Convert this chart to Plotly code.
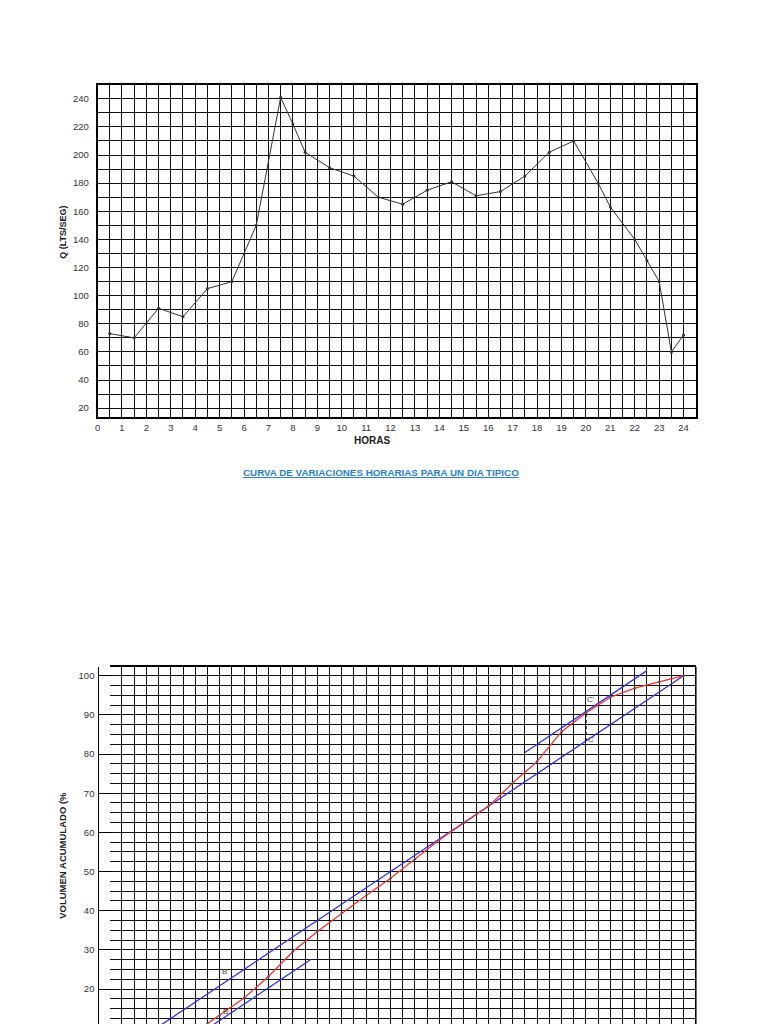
import plotly.graph_objects as go

W, H = 768, 1024

# ---------------- data: hourly flow (top chart) ----------------
hours_q = [0.5, 1.5, 2.5, 3.5, 4.5, 5.5, 6.5, 7.5, 8.0, 8.5, 9.5, 10.5, 11.5, 12.5,
           13.5, 14.5, 15.5, 16.5, 17.5, 18.5, 19.5, 20.5, 21.0, 22.0, 22.5, 23.0, 23.5, 24.0]
q_lps = [73, 70, 91, 85, 105, 110, 150, 241, 222, 202, 191, 185, 170, 165,
         175, 181, 171, 174, 185, 202, 210, 180, 163, 140, 125, 110, 60, 72]

x_ticks_top = list(range(0, 25))
y_ticks_top = list(range(20, 241, 20))

# ---------------- data: cumulative volume (bottom chart) ----------------
hours_v = [4, 4.5, 5, 6, 7, 8, 9, 10, 11, 12, 13, 14, 15, 16, 17, 18, 19, 20, 21, 22, 23, 24]
vol_pct = [9.0, 11.2, 13.2, 17.7, 23.2, 29.6, 34.7, 39.4, 43.9, 48.3, 53.2, 58.1,
           62.4, 66.6, 72.6, 78.1, 85.7, 90.5, 94.5, 96.8, 98.4, 100.0]

supply_h = [0, 24]
supply_v = [0, 100]
upper_h = [17.5, 22.5]
upper_v = [80.4, 101.3]
lower_h = [4.0, 8.75]
lower_v = [7.8, 27.6]
cc_h = [20, 20]
cc_v = [83.3, 90.8]

y_ticks_bot = list(range(20, 101, 10))

FONT = "Liberation Sans, Arial, Helvetica, sans-serif"
GRID = "#111111"
GW = 1.3


def fx(p):
    return p / W


def fy(p):
    return 1 - p / H


fig = go.Figure()

fig.add_trace(go.Scatter(
    x=hours_q, y=q_lps, mode="lines+markers",
    line=dict(color="#333333", width=1),
    marker=dict(size=3, color="#333333"),
    xaxis="x", yaxis="y", showlegend=False, cliponaxis=True))

fig.add_trace(go.Scatter(
    x=supply_h, y=supply_v, mode="lines",
    line=dict(color="#2f2fff", width=1.3),
    xaxis="x2", yaxis="y2", showlegend=False))
fig.add_trace(go.Scatter(
    x=upper_h, y=upper_v, mode="lines",
    line=dict(color="#2f2fff", width=1.3),
    xaxis="x2", yaxis="y2", showlegend=False))
fig.add_trace(go.Scatter(
    x=lower_h, y=lower_v, mode="lines",
    line=dict(color="#2f2fff", width=1.3),
    xaxis="x2", yaxis="y2", showlegend=False))
fig.add_trace(go.Scatter(
    x=hours_v, y=vol_pct, mode="lines+markers",
    line=dict(color="#ff3030", width=1.3),
    marker=dict(size=2.5, color="#555555"),
    xaxis="x2", yaxis="y2", showlegend=False))
fig.add_trace(go.Scatter(
    x=cc_h, y=cc_v, mode="lines",
    line=dict(color="#111111", width=1.6, dash="dot"),
    xaxis="x2", yaxis="y2", showlegend=False))

tickfont = dict(family=FONT, size=9.5, color="#333333")

fig.update_layout(
    width=W, height=H,
    margin=dict(l=0, r=0, t=0, b=0),
    paper_bgcolor="white", plot_bgcolor="white",
    showlegend=False,
    xaxis=dict(
        domain=[fx(94.9), fx(695.5)], range=[0, 24.5], anchor="y",
        tickmode="array", tickvals=x_ticks_top, ticks="",
        showgrid=True, gridcolor=GRID, gridwidth=GW,
        minor=dict(dtick=0.5, tick0=0, showgrid=True, gridcolor=GRID, gridwidth=GW),
        showline=True, mirror=True, linecolor="#000000", linewidth=1.6,
        zeroline=False, tickfont=tickfont, ticklabelstandoff=0),
    yaxis=dict(
        domain=[fy(417.3), fy(84.7)], range=[13.5, 250], anchor="x",
        tickmode="array", tickvals=y_ticks_top, ticks="",
        showgrid=True, gridcolor=GRID, gridwidth=GW,
        minor=dict(dtick=10, tick0=0, showgrid=True, gridcolor=GRID, gridwidth=GW),
        showline=True, mirror=True, linecolor="#000000", linewidth=1.6,
        zeroline=False, tickfont=tickfont, ticklabelstandoff=5),
    xaxis2=dict(
        domain=[fx(107.2), fx(695.5)], range=[0.5, 24.5], anchor="y2",
        dtick=1, tick0=0, ticks="", showticklabels=False,
        showgrid=True, gridcolor=GRID, gridwidth=GW,
        minor=dict(dtick=0.5, tick0=0, showgrid=True, gridcolor=GRID, gridwidth=GW),
        showline=True, mirror=True, linecolor="#000000", linewidth=1.6,
        zeroline=False),
    yaxis2=dict(
        domain=[0, fy(666.7)], range=[11.07, 102.3], anchor="free",
        position=fx(94.9),
        tickmode="array", tickvals=y_ticks_bot,
        ticks="inside", ticklen=13, tickwidth=1.4, tickcolor="#000000",
        showgrid=True, gridcolor=GRID, gridwidth=GW,
        minor=dict(dtick=2.5, tick0=0, showgrid=True, gridcolor=GRID, gridwidth=GW),
        showline=True, linecolor="#000000", linewidth=1.4,
        zeroline=False, tickfont=tickfont, ticklabelstandoff=1),
)

fig.add_shape(type="line", xref="x2 domain", yref="y2 domain",
              x0=1, x1=1, y0=0, y1=1, line=dict(color="#000000", width=1.6))

ann = []
ann.append(dict(text="<b>Q (LTS/SEG)</b>", x=fx(60), y=fy(232), xref="paper", yref="paper",
                xanchor="center", yanchor="middle",
                textangle=-90, showarrow=False, font=dict(family=FONT, size=9, color="#222222")))
ann.append(dict(text="<b>HORAS</b>", x=fx(370), y=fy(440.7), xref="paper", yref="paper",
                xanchor="center", yanchor="middle",
                showarrow=False, font=dict(family=FONT, size=10, color="#222222")))
ann.append(dict(text="<b><u>CURVA DE VARIACIONES HORARIAS PARA UN DIA TIPICO</u></b>",
                x=fx(379), y=fy(472), xref="paper", yref="paper",
                xanchor="center", yanchor="middle",
                showarrow=False, font=dict(family=FONT, size=9.8, color="#2a7fd4")))
ann.append(dict(text="<b>VOLUMEN ACUMULADO (%</b>", x=fx(59), y=fy(855), xref="paper", yref="paper",
                xanchor="center", yanchor="middle",
                textangle=-90, showarrow=False, font=dict(family=FONT, size=9.5, color="#222222")))

small = dict(family=FONT, size=8, color="#444444")
ann.append(dict(text="B'", x=5.25, y=24.4, xref="x2", yref="y2", showarrow=False, font=small))
ann.append(dict(text="B", x=5.25, y=14.3, xref="x2", yref="y2", showarrow=False, font=small))
ann.append(dict(text="C'", x=20.2, y=94.0, xref="x2", yref="y2", showarrow=False, font=small))
ann.append(dict(text="C", x=20.2, y=83.6, xref="x2", yref="y2", showarrow=False, font=small))
fig.update_layout(annotations=ann)

fig.write_html("out.html")
